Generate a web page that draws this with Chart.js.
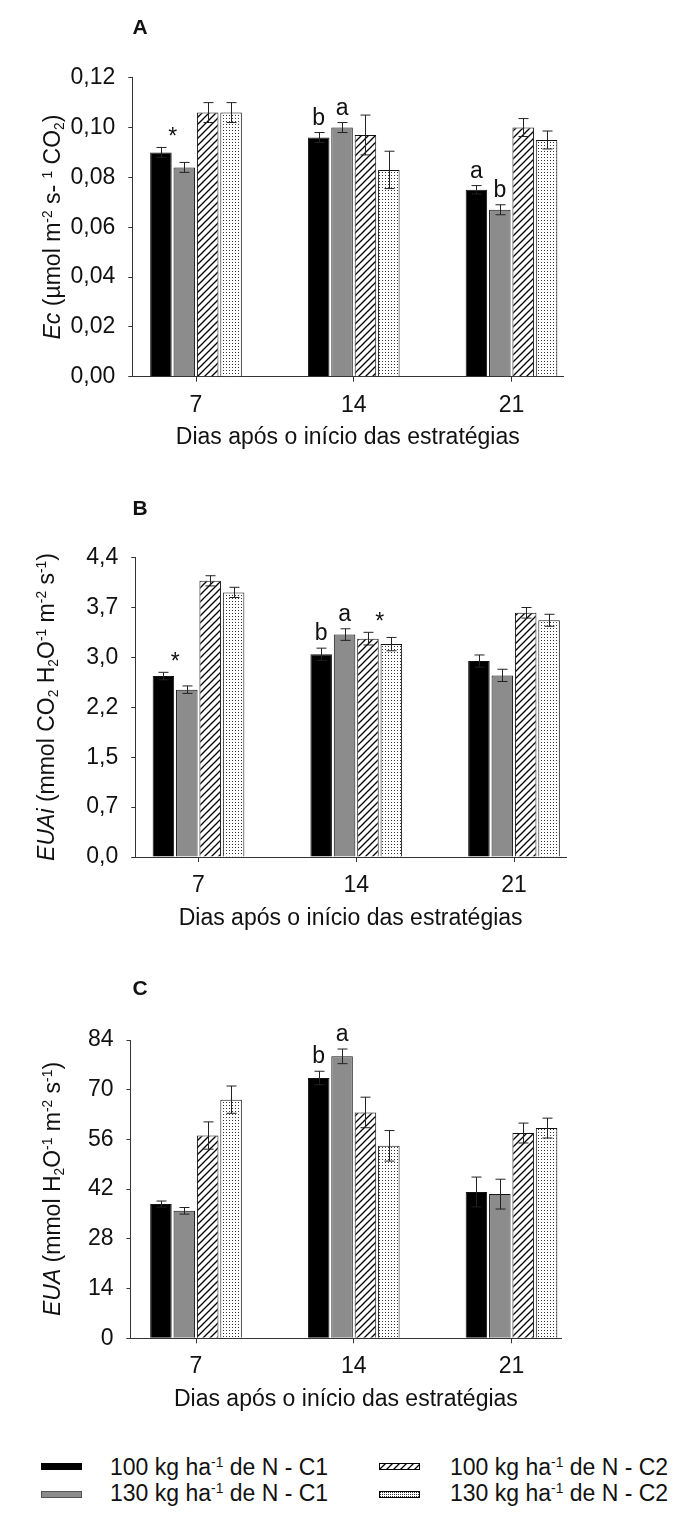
<!DOCTYPE html>
<html>
<head>
<meta charset="utf-8">
<script src="https://cdn.jsdelivr.net/npm/chart.js@4.4.0/dist/chart.umd.min.js"></script>
<style>
  body { margin: 0; background: #fff; }
  #page { position: relative; width: 683px; height: 1515px; font-family: "Liberation Sans", Arial, sans-serif; color: #111; }
  canvas { position: absolute; left: 0; }
  .tag { position: absolute; font-weight: bold; font-size: 21px; transform: translate(-50%, -50%); }
  .ytitle { position: absolute; width: 420px; height: 30px; line-height: 30px; text-align: center; white-space: nowrap;
            font-size: 23px; transform: translate(-50%, -50%) rotate(-90deg); }
  sup { font-size: 0.6em; vertical-align: 0.6em; line-height: 0; }
  sub { font-size: 0.6em; vertical-align: -0.3em; line-height: 0; }
  .lt { position: absolute; font-size: 23px; line-height: 26px; white-space: nowrap; }
</style>
</head>
<body>
<div id="page">
  <canvas id="chartA" width="683" height="470" style="top:0px"></canvas>
  <canvas id="chartB" width="683" height="470" style="top:480px"></canvas>
  <canvas id="chartC" width="683" height="470" style="top:960px"></canvas>

  <div class="tag" style="left:140px;top:27px">A</div>
  <div class="tag" style="left:140px;top:508px">B</div>
  <div class="tag" style="left:140px;top:988px">C</div>

  <div class="ytitle" style="left:52px;top:227px"><i>Ec</i> (µmol m<sup>-2</sup> s- <sup>1</sup> CO<sub>2</sub>)</div>
  <div class="ytitle" style="left:46px;top:707px"><i>EUAi</i> (mmol CO<sub>2</sub> H<sub>2</sub>O<sup>-1</sup> m<sup>-2</sup> s<sup>-1</sup>)</div>
  <div class="ytitle" style="left:52px;top:1189px"><i>EUA</i> (mmol H<sub>2</sub>O<sup>-1</sup> m<sup>-2</sup> s<sup>-1</sup>)</div>

  <canvas id="sw0" width="41" height="7" style="left:41px;top:1463px"></canvas>
  <div class="lt" style="left:110px;top:1454px">100 kg ha<sup>-1</sup> de N - C1</div>
  <canvas id="sw1" width="41" height="7" style="left:41px;top:1491px"></canvas>
  <div class="lt" style="left:110px;top:1480px">130 kg ha<sup>-1</sup> de N - C1</div>
  <canvas id="sw2" width="41" height="7" style="left:379px;top:1463px"></canvas>
  <div class="lt" style="left:450px;top:1454px">100 kg ha<sup>-1</sup> de N - C2</div>
  <canvas id="sw3" width="41" height="7" style="left:379px;top:1491px"></canvas>
  <div class="lt" style="left:450px;top:1480px">130 kg ha<sup>-1</sup> de N - C2</div>
</div>

<script>
const FONT = '"Liberation Sans", Arial, sans-serif';
Chart.defaults.font.family = FONT;

// categories (days after start)
const days = [7, 14, 21];
const xTitle = 'Dias após o início das estratégias';

// A - Ec
const ecC1n100 = [0.090, 0.096, 0.075];
const ecC1n130 = [0.084, 0.100, 0.067];
const ecC2n100 = [0.106, 0.097, 0.100];
const ecC2n130 = [0.106, 0.083, 0.095];
const ecErr = [[0.002, 0.002, 0.0017], [0.002, 0.002, 0.002], [0.004, 0.008, 0.0036], [0.004, 0.0075, 0.0036]];
const ecTicks = [0, 0.02, 0.04, 0.06, 0.08, 0.10, 0.12];
const ecTickLabels = ['0,00', '0,02', '0,04', '0,06', '0,08', '0,10', '0,12'];
const ecMarks = [
  { day: 0, bars: [0, 1], text: '*' },
  { day: 1, bars: [0], text: 'b' }, { day: 1, bars: [1], text: 'a' },
  { day: 2, bars: [0], text: 'a' }, { day: 2, bars: [1], text: 'b' }
];

// B - EUAi
const euaiC1n100 = [2.66, 2.98, 2.88];
const euaiC1n130 = [2.46, 3.27, 2.67];
const euaiC2n100 = [4.06, 3.21, 3.59];
const euaiC2n130 = [3.89, 3.13, 3.48];
const euaiErr = [[0.055, 0.09, 0.09], [0.055, 0.085, 0.09], [0.075, 0.093, 0.078], [0.075, 0.098, 0.088]];
const euaiTicks = [0, 0.733, 1.467, 2.2, 2.933, 3.667, 4.4];
const euaiTickLabels = ['0,0', '0,7', '1,5', '2,2', '3,0', '3,7', '4,4'];
const euaiMarks = [
  { day: 0, bars: [0, 1], text: '*' },
  { day: 1, bars: [0], text: 'b' }, { day: 1, bars: [1], text: 'a' },
  { day: 1, bars: [2, 3], text: '*' }
];

// C - EUA
const euaC1n100 = [37.8, 73.3, 41.2];
const euaC1n130 = [35.9, 79.4, 40.6];
const euaC2n100 = [57.1, 63.6, 57.8];
const euaC2n130 = [67.2, 54.2, 59.2];
const euaErr = [[0.85, 1.9, 4.2], [0.93, 2.06, 4.2], [3.84, 4.3, 2.8], [3.84, 4.3, 2.8]];
const euaTicks = [0, 14, 28, 42, 56, 70, 84];
const euaTickLabels = ['0', '14', '28', '42', '56', '70', '84'];
const euaMarks = [{ day: 1, bars: [0], text: 'b' }, { day: 1, bars: [1], text: 'a' }];

// fill patterns
function hatchPattern() {
  const c = document.createElement('canvas');
  c.width = 7; c.height = 7;
  const g = c.getContext('2d');
  g.fillStyle = '#fff'; g.fillRect(0, 0, 7, 7);
  g.strokeStyle = '#000'; g.lineWidth = 1.3;
  g.beginPath();
  g.moveTo(0, 7); g.lineTo(7, 0);
  g.moveTo(-1, 1); g.lineTo(1, -1);
  g.moveTo(6, 8); g.lineTo(8, 6);
  g.stroke();
  return g.createPattern(c, 'repeat');
}

function dotPattern(size) {
  const c = document.createElement('canvas');
  c.width = size; c.height = size;
  const g = c.getContext('2d');
  g.fillStyle = '#fff'; g.fillRect(0, 0, size, size);
  g.fillStyle = '#333';
  g.fillRect(1, 1, 1, 1);
  return g.createPattern(c, 'repeat');
}

const fills = ['#000', '#8c8c8c', hatchPattern(), dotPattern(3)];

// legend swatches
const swatchFills = ['#000', '#8c8c8c', hatchPattern(), dotPattern(2)];
swatchFills.forEach((f, i) => {
  const g = document.getElementById('sw' + i).getContext('2d');
  g.fillStyle = f;
  g.fillRect(0, 0, 41, 7);
  g.strokeStyle = i === 1 ? '#555' : '#000';
  g.lineWidth = 1;
  g.strokeRect(0.5, 0.5, 40, 6);
});

// error bars + significance letters
function overlay(marks) {
  return {
    id: 'overlay',
    afterDatasetsDraw(chart) {
      const ctx = chart.ctx, ys = chart.scales.y;
      const tops = [];
      ctx.save();
      ctx.strokeStyle = '#222';
      ctx.lineWidth = 1;
      chart.data.datasets.forEach((ds, i) => {
        tops[i] = [];
        chart.getDatasetMeta(i).data.forEach((bar, j) => {
          const v = ds.data[j].y, e = ds.err[j];
          const t = ys.getPixelForValue(v + e), b = ys.getPixelForValue(v - e);
          const x = Math.round(bar.x) + 0.5;
          tops[i][j] = { x: bar.x, y: t };
          ctx.beginPath();
          ctx.moveTo(x, t); ctx.lineTo(x, b);
          ctx.moveTo(x - 5, t); ctx.lineTo(x + 5, t);
          ctx.moveTo(x - 5, b); ctx.lineTo(x + 5, b);
          ctx.stroke();
        });
      });
      ctx.fillStyle = '#111';
      ctx.textAlign = 'center';
      ctx.textBaseline = 'alphabetic';
      ctx.font = '23px ' + FONT;
      marks.forEach(m => {
        const pts = m.bars.map(i => tops[i][m.day]);
        const x = pts.reduce((s, p) => s + p.x, 0) / pts.length;
        const y = Math.min(...pts.map(p => p.y));
        ctx.fillText(m.text, x, y - (m.text === '*' ? 3 : 8));
      });
      ctx.restore();
    }
  };
}

function makeChart(id, L, series, errs, yTicks, yLabels, marks) {
  const px = (L.p21 - L.p7) / 14;
  const xMin = 7 - (L.p7 - L.left) / px;
  const xMax = 21 + (L.right - L.p21) / px;
  const datasets = series.map((arr, i) => ({
    data: arr.map((v, j) => ({ x: days[j], y: v })),
    err: errs[i],
    backgroundColor: fills[i],
    borderColor: '#111',
    borderWidth: 1,
    categoryPercentage: 0.593,
    barPercentage: 0.92
  }));

  return new Chart(document.getElementById(id), {
    type: 'bar',
    data: { datasets },
    options: {
      responsive: false,
      animation: false,
      layout: { padding: { top: L.plotTop - L.top, bottom: L.top + 470 - L.plotBottom - 75, left: 0, right: 683 - L.right } },
      plugins: { legend: { display: false }, tooltip: { enabled: false } },
      scales: {
        x: {
          type: 'linear', min: xMin, max: xMax, offset: false,
          afterBuildTicks: s => { s.ticks = days.map(v => ({ value: v })); },
          afterFit: s => { s.height = 75; },
          grid: { drawOnChartArea: false, tickLength: 5, color: '#333', offset: false },
          border: { color: '#333' },
          ticks: { font: { size: 23 }, color: '#111', padding: 10, maxRotation: 0, autoSkip: false, callback: v => String(v) },
          title: { display: true, text: xTitle, font: { size: 23 }, color: '#111', padding: { top: 0, bottom: 0 } }
        },
        y: {
          min: 0, max: yTicks[yTicks.length - 1],
          afterBuildTicks: s => { s.ticks = yTicks.map(v => ({ value: v })); },
          afterFit: s => { s.width = L.left; },
          grid: { drawOnChartArea: false, tickLength: 4, color: '#333' },
          border: { color: '#333' },
          ticks: { font: { size: 23 }, color: '#111', padding: 13, callback: (v, i) => yLabels[i] }
        }
      }
    },
    plugins: [overlay(marks)]
  });
}

makeChart('chartA', { top: 0, plotTop: 77.7, plotBottom: 376.7, left: 132.3, right: 563.3, p7: 196, p21: 511.5 },
  [ecC1n100, ecC1n130, ecC2n100, ecC2n130], ecErr, ecTicks, ecTickLabels, ecMarks);
makeChart('chartB', { top: 480, plotTop: 557.7, plotBottom: 857, left: 135.3, right: 566, p7: 198.5, p21: 514 },
  [euaiC1n100, euaiC1n130, euaiC2n100, euaiC2n130], euaiErr, euaiTicks, euaiTickLabels, euaiMarks);
makeChart('chartC', { top: 960, plotTop: 1040, plotBottom: 1338.3, left: 130.5, right: 561.3, p7: 196, p21: 511.5 },
  [euaC1n100, euaC1n130, euaC2n100, euaC2n130], euaErr, euaTicks, euaTickLabels, euaMarks);
</script>
</body>
</html>
